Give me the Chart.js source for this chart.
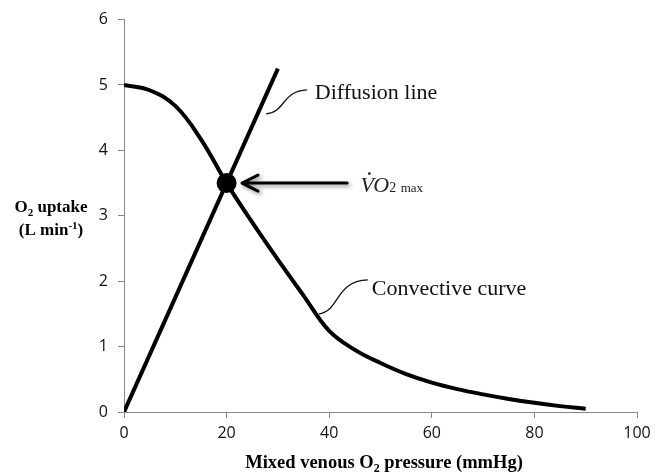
<!DOCTYPE html>
<html lang="en">
<head>
<meta charset="UTF-8" />
<title>O2 uptake vs mixed venous O2 pressure</title>
<script src="https://cdn.jsdelivr.net/npm/chart.js"></script>
<style>
  html, body { margin: 0; padding: 0; background: #fff; }
  #wrap { width: 665px; height: 473px; }
</style>
</head>
<body>
<div id="wrap"><canvas id="chart" width="665" height="473"></canvas></div>
<script>
  // axis ticks
  const xTicks = [0, 20, 40, 60, 80, 100];
  const yTicks = [0, 1, 2, 3, 4, 5, 6];

  // diffusion line (straight, from origin)
  const diffX = [0, 30];
  const diffY = [0, 5.25];

  // convective curve
  const convX = [0, 5, 10, 15, 20, 25, 30, 35, 40, 45, 50, 55, 60, 65, 70, 75, 80, 85, 90];
  const convY = [5.0, 4.92, 4.68, 4.17, 3.5, 2.9, 2.33, 1.78, 1.24, 0.95, 0.75, 0.58, 0.45, 0.35, 0.27, 0.2, 0.14, 0.09, 0.05];

  // VO2 max point (intersection)
  const maxX = [20];
  const maxY = [3.5];

  const toPts = (xs, ys) => xs.map((x, i) => ({ x: x, y: ys[i] }));

  const serif = '"Liberation Serif", "Times New Roman", serif';
  const sans = '"Open Sans", "Noto Sans", sans-serif';

  // text with sub/superscript pieces: [text, size, dy, bold, italic]
  function drawRuns(ctx, runs, x, y, align) {
    let total = 0;
    runs.forEach(r => {
      ctx.font = (r[4] ? 'italic ' : '') + (r[3] ? 'bold ' : '') + r[1] + 'px ' + serif;
      r.w = ctx.measureText(r[0]).width;
      total += r.w;
    });
    let cx = align === 'center' ? x - total / 2 : x;
    runs.forEach(r => {
      ctx.font = (r[4] ? 'italic ' : '') + (r[3] ? 'bold ' : '') + r[1] + 'px ' + serif;
      ctx.fillText(r[0], cx, y + r[2]);
      cx += r.w;
    });
    return total;
  }

  const notes = {
    id: 'notes',
    afterDraw(chart) {
      const ctx = chart.ctx;
      const sx = chart.scales.x, sy = chart.scales.y;
      const px = v => sx.getPixelForValue(v);
      const py = v => sy.getPixelForValue(v);
      ctx.save();
      ctx.fillStyle = '#000';
      ctx.textBaseline = 'alphabetic';
      ctx.textAlign = 'left';

      // axis titles
      drawRuns(ctx, [['O', 17, 0, true], ['2', 11, 4, true], [' uptake', 17, 0, true]], 51, 212, 'center');
      drawRuns(ctx, [['(L min', 17, 0, true], ['-1', 11, -6, true], [')', 17, 0, true]], 51, 235, 'center');
      drawRuns(ctx, [['Mixed venous O', 18.5, 0, true], ['2', 12, 4, true], [' pressure (mmHg)', 18.5, 0, true]],
        384, 468, 'center');

      // labels on the curves
      ctx.font = '22px ' + serif;
      ctx.fillStyle = '#111';
      ctx.fillText('Diffusion line', px(37.2), py(4.89) + 7);
      ctx.fillText('Convective curve', px(48.3), py(1.89) + 7);

      // leader squiggles
      ctx.strokeStyle = '#111';
      ctx.lineWidth = 1.3;
      let ax = px(27.7), ay = py(4.56);
      ctx.beginPath();
      ctx.moveTo(ax, ay);
      ctx.bezierCurveTo(ax + 19, ay - 1, ax + 16, ay - 23, ax + 41, ay - 24);
      ctx.stroke();
      ax = px(38.0); ay = py(1.5);
      ctx.beginPath();
      ctx.moveTo(ax, ay);
      ctx.bezierCurveTo(ax + 21, ay - 3, ax + 16, ay - 33, ax + 49, ay - 34);
      ctx.stroke();

      // arrow pointing at the VO2 max point
      const tipX = px(23.0), tailX = px(43.5), ay2 = py(3.5);
      ctx.save();
      ctx.shadowColor = 'rgba(0,0,0,0.45)';
      ctx.shadowBlur = 4;
      ctx.shadowOffsetX = 2;
      ctx.shadowOffsetY = 2;
      ctx.strokeStyle = '#000';
      ctx.lineWidth = 3;
      ctx.lineCap = 'round';
      ctx.lineJoin = 'round';
      ctx.beginPath();
      ctx.moveTo(tailX, ay2);
      ctx.lineTo(tipX + 2, ay2);
      ctx.moveTo(tipX + 16, ay2 - 8);
      ctx.lineTo(tipX, ay2);
      ctx.lineTo(tipX + 16, ay2 + 8);
      ctx.stroke();
      ctx.restore();

      // V-dot O2 max
      const vx = px(46.1), vy = py(3.5) + 9;
      ctx.fillStyle = '#222';
      ctx.font = 'italic 22px ' + serif;
      const vw = ctx.measureText('V').width;
      ctx.fillText('VO', vx, vy);
      ctx.beginPath();
      ctx.arc(vx + vw * 0.66, vy - 18.5, 1.4, 0, Math.PI * 2);
      ctx.fill();
      const ow = ctx.measureText('VO').width;
      ctx.font = '14px ' + serif;
      ctx.fillText('2', vx + ow, vy);
      const tw = ctx.measureText('2 ').width;
      ctx.font = '13px ' + serif;
      ctx.fillText('max', vx + ow + tw + 1, vy);

      ctx.restore();
    }
  };

  new Chart(document.getElementById('chart'), {
    type: 'scatter',
    data: {
      datasets: [
        {
          label: 'Diffusion line',
          data: toPts(diffX, diffY),
          showLine: true,
          borderColor: '#000',
          borderWidth: 4,
          pointRadius: 0,
          borderCapStyle: 'butt'
        },
        {
          label: 'Convective curve',
          data: toPts(convX, convY),
          showLine: true,
          borderColor: '#000',
          borderWidth: 4,
          pointRadius: 0,
          tension: 0.4
        },
        {
          label: 'VO2 max',
          data: toPts(maxX, maxY),
          pointRadius: 10,
          backgroundColor: '#000',
          borderColor: '#000',
          borderWidth: 0
        }
      ]
    },
    options: {
      responsive: false,
      animation: false,
      layout: { padding: { left: 0, right: 28, top: 19, bottom: 0 } },
      plugins: { legend: { display: false }, tooltip: { enabled: false } },
      scales: {
        x: {
          type: 'linear',
          min: 0,
          max: 100,
          afterBuildTicks: s => { s.ticks = xTicks.map(v => ({ value: v })); },
          afterFit: s => { s.height = 61; },
          border: { color: '#888', width: 1 },
          grid: { drawOnChartArea: false, drawTicks: true, tickLength: 6, color: '#888' },
          ticks: { color: '#111', font: { family: sans, size: 16 }, padding: 6, maxRotation: 0 }
        },
        y: {
          type: 'linear',
          min: 0,
          max: 6,
          afterBuildTicks: s => { s.ticks = yTicks.map(v => ({ value: v })); },
          afterFit: s => { s.width = 124; },
          border: { color: '#888', width: 1 },
          grid: { drawOnChartArea: false, drawTicks: true, tickLength: 6, color: '#888' },
          ticks: { color: '#111', font: { family: sans, size: 16 }, padding: 10 }
        }
      }
    },
    plugins: [notes]
  });
</script>
</body>
</html>
